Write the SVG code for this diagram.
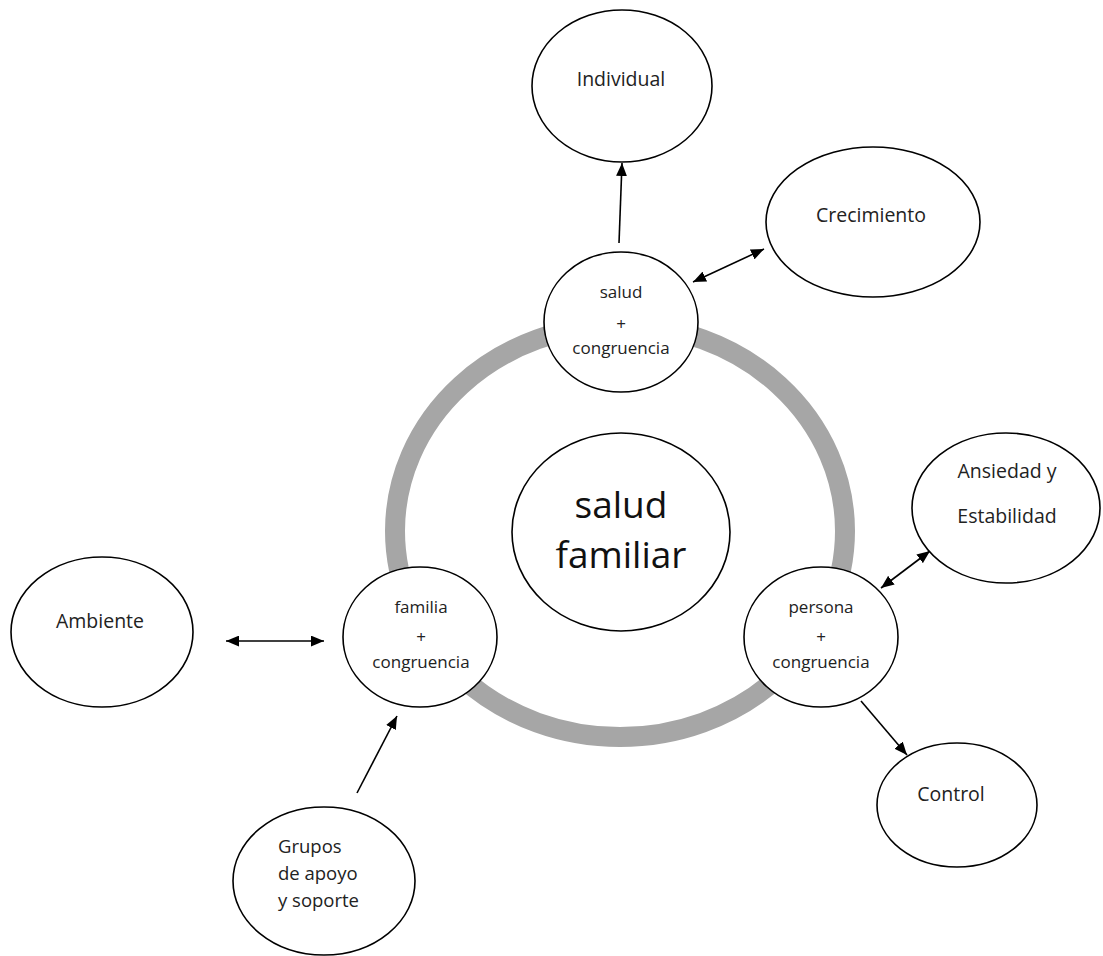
<svg xmlns="http://www.w3.org/2000/svg" width="1103" height="956" viewBox="0 0 1103 956">
<defs>
<style>
.node{fill:#fff;stroke:#000;stroke-width:1.6}
.lbl{font-family:"Open Sans","Noto Sans","Liberation Sans",sans-serif;font-size:19.5px;fill:#222;text-anchor:middle}
.sm{font-family:"Open Sans","Noto Sans","Liberation Sans",sans-serif;font-size:17px;fill:#222;text-anchor:middle}
.big{font-family:"Open Sans","Noto Sans","Liberation Sans",sans-serif;font-size:37px;fill:#111;text-anchor:middle}
.conn{stroke:#000;stroke-width:1.6;fill:none}
</style>
<marker id="ah" viewBox="0 0 12 10" refX="12" refY="5" markerWidth="13" markerHeight="11" markerUnits="userSpaceOnUse" orient="auto-start-reverse">
<path d="M0,0 L12,5 L0,10 z" fill="#000"/>
</marker>
</defs>
<rect width="1103" height="956" fill="#fff"/>
<ellipse id="ring" cx="620" cy="531" rx="225" ry="206" fill="none" stroke="#a6a6a6" stroke-width="20"/>
<g id="connectors">
<line class="conn" x1="619" y1="243" x2="622" y2="163" marker-end="url(#ah)"/>
<line class="conn" x1="693" y1="282" x2="764" y2="249" marker-start="url(#ah)" marker-end="url(#ah)"/>
<line class="conn" x1="881" y1="588" x2="930" y2="551" marker-start="url(#ah)" marker-end="url(#ah)"/>
<line class="conn" x1="861" y1="701" x2="907" y2="755" marker-end="url(#ah)"/>
<line class="conn" x1="226" y1="641" x2="324" y2="641" marker-start="url(#ah)" marker-end="url(#ah)"/>
<line class="conn" x1="357" y1="793" x2="397" y2="716" marker-end="url(#ah)"/>
</g>
<g id="center">
<ellipse class="node" cx="621" cy="532" rx="109" ry="99"/>
<text class="big" x="621" y="518">salud</text>
<text class="big" x="621" y="568">familiar</text>
</g>
<g id="salud">
<ellipse class="node" cx="621" cy="322" rx="77" ry="70"/>
<text class="sm" x="621" y="298">salud</text>
<text class="sm" x="621" y="330">+</text>
<text class="sm" x="621" y="354">congruencia</text>
</g>
<g id="familia">
<ellipse class="node" cx="420" cy="637" rx="77" ry="70"/>
<text class="sm" x="421" y="613">familia</text>
<text class="sm" x="421" y="643">+</text>
<text class="sm" x="421" y="668">congruencia</text>
</g>
<g id="persona">
<ellipse class="node" cx="821" cy="637" rx="77" ry="70"/>
<text class="sm" x="821" y="613">persona</text>
<text class="sm" x="821" y="643">+</text>
<text class="sm" x="821" y="668">congruencia</text>
</g>
<g id="individual">
<ellipse class="node" cx="622" cy="86" rx="90" ry="76"/>
<text class="lbl" x="621" y="86">Individual</text>
</g>
<g id="crecimiento">
<ellipse class="node" cx="873" cy="222" rx="107" ry="75"/>
<text class="lbl" x="871" y="222">Crecimiento</text>
</g>
<g id="ansiedad">
<ellipse class="node" cx="1006" cy="508" rx="94" ry="75"/>
<text class="lbl" x="1007" y="478">Ansiedad y</text>
<text class="lbl" x="1007" y="523">Estabilidad</text>
</g>
<g id="control">
<ellipse class="node" cx="957" cy="805" rx="80" ry="62"/>
<text class="lbl" x="951" y="801">Control</text>
</g>
<g id="ambiente">
<ellipse class="node" cx="102" cy="632" rx="91" ry="75"/>
<text class="lbl" x="100" y="628">Ambiente</text>
</g>
<g id="grupos">
<ellipse class="node" cx="324" cy="881" rx="91" ry="74"/>
<text class="lbl" x="278" y="853" style="text-anchor:start;font-size:18.5px">Grupos</text>
<text class="lbl" x="278" y="880" style="text-anchor:start;font-size:18.5px">de apoyo</text>
<text class="lbl" x="278" y="907" style="text-anchor:start;font-size:18.5px">y soporte</text>
</g>
</svg>
